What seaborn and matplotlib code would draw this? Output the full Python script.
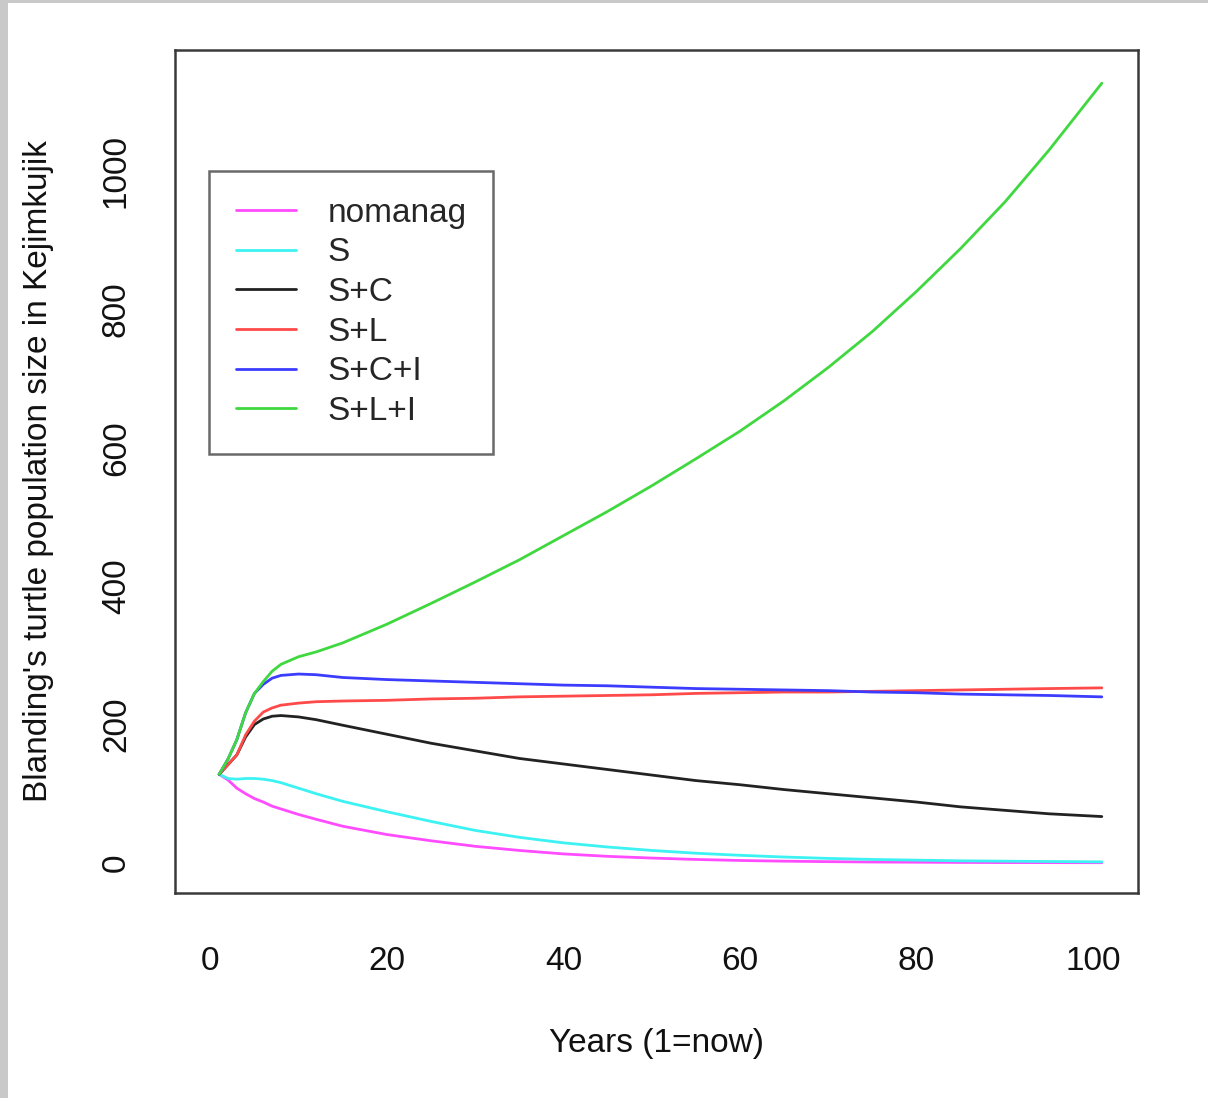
import numpy as np
import pandas as pd
import matplotlib
matplotlib.use("Agg")
import matplotlib.pyplot as plt
import seaborn as sns
from matplotlib.patches import Rectangle

years = [1, 2, 3, 4, 5, 6, 7, 8, 10, 12, 15, 20, 25, 30, 35, 40, 45, 50,
         55, 60, 65, 70, 75, 80, 85, 90, 95, 101]

nomanag = [128, 120, 108, 100, 93, 88, 82, 78, 70, 63, 53, 41, 32, 24, 18, 13,
           9.5, 7, 5, 3.5, 2.5, 1.8, 1.3, 1.0, 0.7, 0.5, 0.4, 0.3]
s_only = [128, 122, 121, 122, 122, 121, 119, 116, 108, 100, 89, 74, 60, 47, 37,
          29, 23, 18, 14, 11, 8.5, 6.5, 5, 4, 3, 2.5, 2, 1.5]
s_c = [128, 142, 156, 182, 200, 208, 212, 213, 211, 207, 199, 186, 173, 162,
       151, 143, 135, 127, 119, 113, 106, 100, 94, 88, 81, 76, 71, 67]
s_l = [128, 142, 156, 185, 205, 218, 224, 228, 231, 233, 234, 235, 237, 238,
       240, 241, 242, 243, 245, 246, 247, 247, 248, 249, 250, 251, 252, 253]
s_c_i = [128, 150, 178, 217, 245, 258, 267, 271, 273, 272, 268, 265, 263, 261,
         259, 257, 256, 254, 252, 251, 250, 249, 247, 246, 244, 243, 242, 240]
s_l_i = [128, 150, 178, 217, 245, 262, 277, 287, 298, 305, 318, 345, 375, 406,
         438, 473, 508, 545, 584, 624, 668, 716, 768, 826, 888, 955, 1030, 1127]

series_names = ["nomanag", "S", "S+C", "S+L", "S+C+I", "S+L+I"]
series_values = [nomanag, s_only, s_c, s_l, s_c_i, s_l_i]
colors = ["#ff4cff", "#3cf2f2", "#222222", "#ff4a4a", "#3c3cff", "#3fd83f"]

x_ticks = [0, 20, 40, 60, 80, 100]
y_ticks = [0, 200, 400, 600, 800, 1000]

df = pd.concat(
    [pd.DataFrame({"year": years, "pop": vals, "scenario": name})
     for name, vals in zip(series_names, series_values)],
    ignore_index=True,
)

sns.set_style("white")
plt.rcParams["font.family"] = ["Liberation Sans", "DejaVu Sans"]

fig = plt.figure(figsize=(12.08, 10.98), dpi=100)
fig.patches.append(Rectangle((0, 0), 8 / 1208, 1, transform=fig.transFigure,
                             facecolor="#c9c9c9", edgecolor="none"))
fig.patches.append(Rectangle((0, 1 - 3 / 1098), 1, 3 / 1098, transform=fig.transFigure,
                             facecolor="#c9c9c9", edgecolor="none"))

ax = fig.add_axes([175 / 1208, 1 - 893 / 1098, 963 / 1208, 843 / 1098])

sns.lineplot(data=df, x="year", y="pop", hue="scenario", hue_order=series_names,
             palette=colors, linewidth=2.0, ax=ax, legend=True, sort=True)

ax.set_xlim(-4, 105.1)
ax.set_ylim(-43.5, 1175)
ax.set_xticks(x_ticks)
ax.set_yticks(y_ticks)
ax.set_yticklabels([str(v) for v in y_ticks], rotation=90, va="center")

for sp in ax.spines.values():
    sp.set_color("#3a3a3a")
    sp.set_linewidth(1.8)
    sp.set_visible(True)

ax.tick_params(axis="both", direction="out", length=13, width=1.6,
               color="#3a3a3a", labelsize=24, labelcolor="#111111")
ax.tick_params(axis="x", pad=25)
ax.tick_params(axis="y", pad=18)

ax.set_xlabel("Years (1=now)", fontsize=24, labelpad=37, color="#111111")
ax.set_ylabel("Blanding's turtle population size in Kejimkujik", fontsize=24,
              labelpad=34, color="#111111")

leg = ax.legend(loc="upper left", bbox_to_anchor=((209 - 175) / 963, (893 - 171) / 843),
                borderaxespad=0, fontsize=24, frameon=True, fancybox=False,
                handlelength=1.8, handletextpad=0.95, labelspacing=0.26,
                borderpad=0.8, title=None)
leg.get_frame().set_edgecolor("#444444")
leg.get_frame().set_linewidth(1.8)
for line in leg.get_lines():
    line.set_linewidth(2.0)

fig.savefig("out.png", dpi=100, facecolor="white")
